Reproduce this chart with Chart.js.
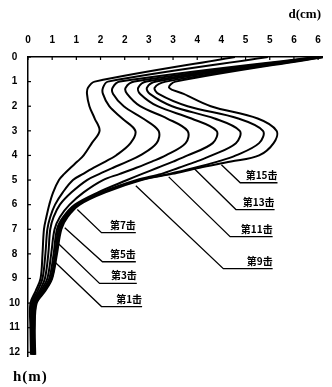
<!DOCTYPE html>
<html>
<head>
<meta charset="utf-8">
<script src="https://cdn.jsdelivr.net/npm/chart.js@4/dist/chart.umd.min.js"></script>
<style>
  html, body { margin: 0; padding: 0; background: #fff; }
  #wrap { width: 332px; height: 387px; }
</style>
</head>
<body>
<div id="wrap"><canvas id="grafico"></canvas></div>
<script>
// profundidad h (m), comun a todas las curvas
const profundidad = [0, 1.0, 1.25, 1.5, 2.0, 2.5, 3.0, 3.5, 4.0, 4.25, 4.5, 4.75, 5.0, 5.5, 6.0, 6.5, 7.0, 8.0, 9.0, 9.5, 10.0, 11.0, 12.1]

// desplazamiento d (cm) de cada golpe
const golpe1  = [4.28, 1.38, 1.24, 1.22, 1.27, 1.38, 1.48, 1.32, 1.15, 1.02, 0.88, 0.75, 0.64, 0.52, 0.44, 0.38, 0.33, 0.30, 0.26, 0.16, 0.05, 0.05, 0.06]
const golpe3  = [4.96, 1.65, 1.55, 1.55, 1.68, 1.95, 2.22, 2.12, 1.82, 1.60, 1.36, 1.14, 0.93, 0.72, 0.56, 0.46, 0.40, 0.36, 0.30, 0.20, 0.08, 0.07, 0.08]
const golpe5  = [5.95, 1.90, 1.75, 1.76, 1.98, 2.38, 2.70, 2.66, 2.32, 2.05, 1.76, 1.48, 1.22, 0.90, 0.66, 0.53, 0.46, 0.42, 0.35, 0.24, 0.10, 0.09, 0.10]
const golpe7  = [6.00, 2.20, 2.02, 2.05, 2.32, 2.88, 3.30, 3.26, 2.85, 2.56, 2.24, 1.90, 1.55, 1.15, 0.86, 0.66, 0.55, 0.48, 0.40, 0.27, 0.12, 0.10, 0.11]
const golpe9  = [6.05, 2.45, 2.28, 2.32, 2.68, 3.38, 3.90, 3.82, 3.30, 3.00, 2.68, 2.36, 2.05, 1.45, 0.97, 0.73, 0.60, 0.53, 0.44, 0.30, 0.14, 0.11, 0.12]
const golpe11 = [6.08, 2.65, 2.46, 2.52, 2.98, 3.86, 4.38, 4.30, 3.80, 3.48, 3.12, 2.76, 2.25, 1.52, 1.01, 0.76, 0.63, 0.56, 0.47, 0.32, 0.16, 0.12, 0.13]
const golpe13 = [6.10, 2.85, 2.62, 2.70, 3.30, 4.35, 4.86, 4.78, 4.30, 3.92, 3.45, 2.92, 2.30, 1.56, 1.04, 0.79, 0.66, 0.58, 0.49, 0.34, 0.17, 0.13, 0.14]
const golpe15 = [6.12, 3.05, 2.92, 3.22, 3.78, 4.75, 5.14, 5.08, 4.78, 4.20, 3.55, 2.98, 2.35, 1.60, 1.07, 0.82, 0.69, 0.60, 0.50, 0.36, 0.18, 0.14, 0.15]

const golpes = [golpe1, golpe3, golpe5, golpe7, golpe9, golpe11, golpe13, golpe15]
const etiquetas = ["第1击", "第3击", "第5击", "第7击", "第9击", "第11击", "第13击", "第15击"]

// lineas guia de las etiquetas (en unidades de datos)
const guiaDesdeD = [0.55, 0.61, 0.76, 1.02, 2.23, 2.91, 3.42, 4.00]
const guiaDesdeH = [8.32, 7.55, 6.94, 6.20, 5.23, 4.87, 4.50, 4.38]
const guiaCodoD  = [1.52, 1.48, 1.54, 1.52, 4.04, 4.18, 4.30, 4.39]
const guiaCodoH  = [10.14, 9.20, 8.32, 7.14, 8.60, 7.30, 6.20, 5.11]
const guiaFinD   = [2.36, 2.25, 2.23, 2.23, 5.06, 5.06, 5.10, 5.16]

// marcas de los ejes
const ticksX = [0, 0.5, 1, 1.5, 2, 2.5, 3, 3.5, 4, 4.5, 5, 5.5, 6]
const etiquetasX = ["0", "1", "1", "2", "2", "3", "3", "4", "4", "5", "5", "6", "6"]
const ticksY = [0, 1, 2, 3, 4, 5, 6, 7, 8, 9, 10, 11, 12]

const fuenteNum = { family: "Liberation Sans", size: 10, weight: "bold" }

const datasets = golpes.map(function (serie, i) {
    return {
        label: etiquetas[i],
        data: serie.map(function (d, j) { return { x: d, y: profundidad[j] } }),
        borderColor: "#000",
        borderWidth: 2,
        pointRadius: 0,
        tension: 0.35,
        fill: false
    }
})

const extras = {
    id: "extras",
    afterDatasetsDraw(chart) {
        const ctx = chart.ctx
        const sx = chart.scales.x
        const sy = chart.scales.y
        const area = chart.chartArea
        ctx.save()
        ctx.strokeStyle = "#000"
        ctx.fillStyle = "#000"

        // marcas hacia dentro
        ctx.lineWidth = 1.2
        ticksX.forEach(function (v) {
            const px = sx.getPixelForValue(v)
            ctx.beginPath()
            ctx.moveTo(px, area.top)
            ctx.lineTo(px, area.top + 3)
            ctx.stroke()
        })
        ticksY.forEach(function (v) {
            const py = sy.getPixelForValue(v)
            ctx.beginPath()
            ctx.moveTo(area.left, py)
            ctx.lineTo(area.left + 3, py)
            ctx.stroke()
        })

        // lineas guia y etiquetas
        ctx.lineWidth = 1.3
        ctx.font = "bold 10px 'Noto Sans CJK SC'"
        ctx.textAlign = "right"
        ctx.textBaseline = "alphabetic"
        etiquetas.forEach(function (txt, i) {
            const x0 = sx.getPixelForValue(guiaDesdeD[i])
            const y0 = sy.getPixelForValue(guiaDesdeH[i])
            const x1 = sx.getPixelForValue(guiaCodoD[i])
            const y1 = sy.getPixelForValue(guiaCodoH[i])
            const x2 = sx.getPixelForValue(guiaFinD[i])
            ctx.beginPath()
            ctx.moveTo(x0, y0)
            ctx.lineTo(x1, y1)
            ctx.lineTo(x2, y1)
            ctx.stroke()
            ctx.fillText(txt, x2, y1 - 4)
        })

        // titulos de los ejes
        ctx.textAlign = "right"
        ctx.textBaseline = "middle"
        ctx.font = "bold 13px 'Liberation Serif'"
        ctx.fillText("d(cm)", 321, 15)
        ctx.textAlign = "left"
        ctx.font = "bold 15px 'Liberation Serif'"
        ctx.letterSpacing = "1px"
        ctx.fillText("h(m)", 13, 377)
        ctx.restore()
    }
}

new Chart(document.querySelector("#grafico"), {
    type: "line",
    data: { datasets: datasets },
    options: {
        responsive: true,
        maintainAspectRatio: false,
        animation: false,
        layout: { padding: { left: 0, right: 7, top: 0, bottom: 31 } },
        plugins: { legend: { display: false }, tooltip: { enabled: false } },
        scales: {
            x: {
                type: "linear",
                position: "top",
                min: 0,
                max: 6.1,
                grid: { display: false, drawTicks: false },
                border: { display: true, color: "#000", width: 1.5 },
                afterBuildTicks: function (s) { s.ticks = ticksX.map(function (v) { return { value: v } }) },
                afterFit: function (s) { s.height = 57 },
                ticks: {
                    color: "#000",
                    font: fuenteNum,
                    padding: 11,
                    maxRotation: 0,
                    autoSkip: false,
                    callback: function (v, i) { return etiquetasX[i] }
                }
            },
            y: {
                type: "linear",
                reverse: true,
                min: 0,
                max: 12.15,
                grid: { display: false, drawTicks: false },
                border: { display: true, color: "#000", width: 1.5 },
                afterBuildTicks: function (s) { s.ticks = ticksY.map(function (v) { return { value: v } }) },
                afterFit: function (s) { s.width = 28 },
                ticks: {
                    color: "#000",
                    font: fuenteNum,
                    padding: 8,
                    crossAlign: "center",
                    autoSkip: false,
                    callback: function (v) { return String(v) }
                }
            }
        }
    },
    plugins: [extras]
})
</script>
</body>
</html>
